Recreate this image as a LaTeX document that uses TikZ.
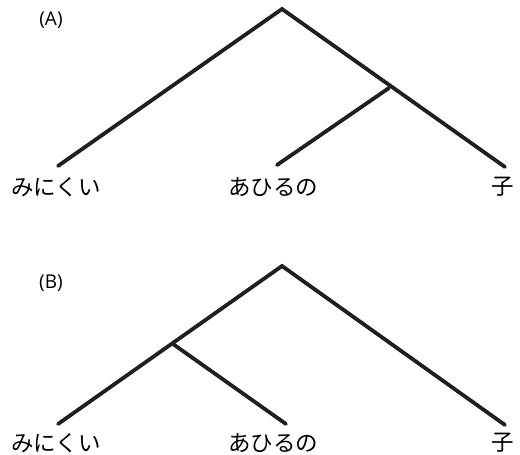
\documentclass[tikz,border=0pt]{standalone}
\usepackage{fontspec}
\newfontfamily\jp{Noto Sans CJK JP}
\setmainfont{Open Sans}
\begin{document}
\begin{tikzpicture}[x=1pt,y=-1pt,
  branch/.style={line width=3.8pt,color=black!88,line cap=round,line join=miter},
  word/.style={font=\jp\fontsize{22.5}{26}\selectfont,inner sep=0pt,anchor=center},
  tag/.style={font=\fontsize{19}{22}\selectfont,inner sep=0pt}]
\useasboundingbox (0,0) rectangle (520,455);
% Tree A
\coordinate (aTop) at (282,9);
\coordinate (aMid) at (389,88);
\coordinate (aL) at (58,166);
\coordinate (aM) at (277,165);
\coordinate (aR) at (505,167);
\draw[branch] (aL) -- (aTop) -- (aR);
\draw[branch] (aMid) -- (aM);
\node[tag] (labA) at (51,20) {(A)};
\node[word] (wA1) at (56,187) {みにくい};
\node[word] (wA2) at (273,187) {あひるの};
\node[word] (wA3) at (503,187) {子};
% Tree B
\coordinate (bTop) at (282,266);
\coordinate (bMid) at (173,344);
\coordinate (bL) at (58,424);
\coordinate (bM) at (286,424);
\coordinate (bR) at (505,425);
\draw[branch] (bL) -- (bTop) -- (bR);
\draw[branch] (bMid) -- (bM);
\node[tag] (labB) at (51,283) {(B)};
\node[word] (wB1) at (56,443) {みにくい};
\node[word] (wB2) at (273,443) {あひるの};
\node[word] (wB3) at (503,443) {子};
\end{tikzpicture}
\end{document}
